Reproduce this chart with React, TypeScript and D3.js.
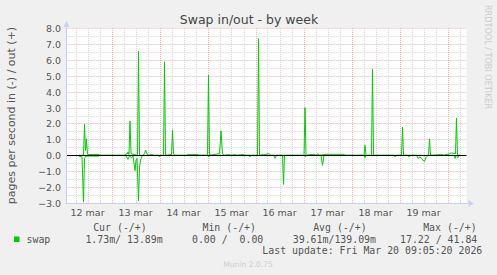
import React from "react";
import * as d3 from "d3";

// ---- data ----
const outTimes = [
  "03-12 07:30","03-12 10:00","03-12 10:30","03-12 11:00","03-12 11:30","03-12 12:00","03-12 17:45","03-12 18:15",
  "03-13 06:45","03-13 07:15","03-13 07:45","03-13 08:15","03-13 08:45","03-13 09:15","03-13 09:45",
  "03-13 13:00","03-13 13:30","03-13 14:00","03-13 15:45","03-13 16:30","03-13 17:00","03-13 17:45","03-13 18:45",
  "03-13 19:30","03-13 20:30","03-13 21:00",
  "03-14 02:00","03-14 02:30","03-14 03:00","03-14 06:00","03-14 06:30","03-14 07:00","03-14 07:45",
  "03-14 13:30","03-14 14:00","03-14 19:15","03-14 19:45",
  "03-15 00:00","03-15 00:30","03-15 01:00","03-15 06:00","03-15 06:45","03-15 07:30","03-15 08:15",
  "03-15 11:00","03-15 11:30","03-15 14:00","03-15 14:30","03-15 18:00","03-15 18:30",
  "03-16 01:00","03-16 01:30","03-16 02:00","03-16 05:00","03-16 06:30","03-16 07:30","03-16 08:00",
  "03-17 00:15","03-17 00:45","03-17 01:15","03-17 03:45","03-17 05:45","03-17 06:15","03-17 07:15","03-17 07:45",
  "03-17 11:15","03-17 13:45","03-17 16:45","03-17 20:15","03-17 20:45",
  "03-18 06:15","03-18 06:45","03-18 07:15","03-18 10:00","03-18 10:30","03-18 11:00",
  "03-19 01:00","03-19 01:30","03-19 02:00","03-19 14:30","03-19 15:00","03-19 15:30","03-19 21:30","03-19 22:00",
  "03-20 01:00","03-20 02:00","03-20 04:00","03-20 04:30","03-20 05:00","03-20 06:15",
];
const outValues = [
  0, 0, 1.95, 0.3, 1.03, 0.05, 0.05, 0,
  0, 0.1, 0.05, 0.2, 0.05, 2.16, 0.1,
  0, 6.53, 0, 0, 0.1, 0.33, 0.08, 0,
  0.05, 0.05, 0,
  0, 5.88, 0, 0.05, 1.59, 0.1, 0,
  0, 0.05, 0.05, 0,
  0, 5.04, 0, 0.1, 1.53, 0.1, 0,
  0.05, 0, 0.05, 0, 0.05, 0,
  0, 7.33, 0, 0.05, 0.1, 0.05, 0,
  0, 3.0, 0, 0.05, 0.05, 0, 0.1, 0,
  0.06, 0.06, 0.06, 0.06, 0,
  0, 0.63, 0, 0, 5.42, 0,
  0, 1.76, 0, 0, 1.03, 0, 0.05, 0,
  0.1, 0.15, 0.1, 2.35, 0, 0,
];

const inTimes = [
  "03-12 07:30","03-12 09:15","03-12 10:00","03-12 10:30","03-12 11:15","03-12 17:45","03-12 18:15",
  "03-13 06:45","03-13 07:15","03-13 08:15","03-13 09:00","03-13 10:00","03-13 10:45","03-13 11:45",
  "03-13 12:15","03-13 12:45","03-13 13:30","03-13 14:00","03-13 14:30","03-13 15:15","03-13 15:45",
  "03-13 23:30","03-14 00:00","03-14 00:30",
  "03-15 00:00","03-15 00:30","03-15 01:00","03-15 20:45","03-15 21:15","03-15 21:45",
  "03-16 09:00","03-16 09:45","03-16 10:30","03-16 13:30","03-16 14:00","03-16 14:30",
  "03-17 00:30","03-17 01:00","03-17 01:30","03-17 08:45","03-17 09:30","03-17 10:15",
  "03-18 06:15","03-18 06:45","03-18 07:15","03-18 21:15","03-18 21:45","03-18 22:15",
  "03-19 04:15","03-19 04:45","03-19 05:15","03-19 08:30","03-19 09:15","03-19 10:15","03-19 11:15",
  "03-19 12:30","03-19 13:15","03-19 14:15",
  "03-20 03:15","03-20 03:45","03-20 04:15","03-20 05:15","03-20 05:45","03-20 06:15",
];
const inValues = [
  0.05, 0.1, 2.92, 0.2, 0.05, 0.05, 0,
  0, 0.05, 0.25, 0.05, 0.15, 0.05, 0.97,
  0.3, 0.2, 2.86, 0.8, 0.3, 0.05, 0,
  0, 0.1, 0,
  0, 0.1, 0, 0, 0.1, 0,
  0, 0.19, 0, 0, 1.83, 0,
  0, 0.1, 0, 0, 0.63, 0,
  0, 0.15, 0, 0, 0.1, 0,
  0, 0.1, 0, 0, 0.2, 0.1, 0.25,
  0.38, 0.15, 0,
  0, 0.2, 0, 0.15, 0, 0,
];

const yTicks = [-3, -2, -1, 0, 1, 2, 3, 4, 5, 6, 7, 8];
const dayLabels = ["12 mar", "13 mar", "14 mar", "15 mar", "16 mar", "17 mar", "18 mar", "19 mar"];
const legendHeaders = ["Cur (-/+)", "Min (-/+)", "Avg (-/+)", "Max (-/+)"];
const legendValues = ["1.73m/ 13.89m", "0.00 /  0.00", "39.61m/139.09m", "17.22 / 41.84"];
const seriesName = "swap";
const title = "Swap in/out - by week";
const yLabel = "pages per second in (-) / out (+)";
const lastUpdate = "Last update: Fri Mar 20 09:05:20 2026";
const footer = "Munin 2.0.75";
const watermark = "RRDTOOL / TOBI OETIKER";

const parseT = (s: string) => {
  const [md, hm] = s.split(" ");
  const [mo, d] = md.split("-").map(Number);
  const [h, m] = hm.split(":").map(Number);
  return new Date(Date.UTC(2026, mo - 1, d, h, m));
};

const W = 497, H = 275;
const PL = 66.5, PR = 466.5, PT = 28, PB = 203;
const GREEN = "#00cc00";
const SANS = "DejaVu Sans, sans-serif";
const MONO = "DejaVu Sans Mono, monospace";

export default function App() {
  const x = d3.scaleUtc()
    .domain([new Date(Date.UTC(2026, 2, 12, 1, 30)), new Date(Date.UTC(2026, 2, 20, 9, 30))])
    .range([PL, PR]);
  const y = d3.scaleLinear().domain([-3, 8]).range([PB, PT]);
  const cy = (v: number) => Math.round(y(v)) + 0.5;
  const cx = (d: Date) => Math.round(x(d)) + 0.5;

  const [t0, t1] = x.domain();
  const minorX = d3.utcHour.every(6)!.range(t0, t1).filter((d) => d.getUTCHours() !== 0);
  const majorX = d3.utcDay.range(t0, t1);
  const halfTicks = d3.range(-3, 8.01, 0.5).filter((v) => Math.abs(v % 1) > 0.1);

  const outData = outTimes.map((t, i) => ({ t: parseT(t), v: outValues[i] }));
  const inData = inTimes.map((t, i) => ({ t: parseT(t), v: -inValues[i] }));
  const line = d3.line<{ t: Date; v: number }>().x((d) => x(d.t)).y((d) => y(d.v));

  const labelDays = dayLabels.map((_, i) => new Date(Date.UTC(2026, 2, 12 + i, 12)));
  const legendHeaderEnds = [146.7, 256, 366.7, 476.7];
  const legendValueEnds = [162.7, 263.3, 376, 477.3];

  return (
    <svg width={W} height={H} style={{ position: "absolute", left: 0, top: 0 }}>
      <rect x={0} y={0} width={W} height={H} fill="#f0f0f0" />
      <rect x={PL} y={PT} width={PR - PL} height={PB - PT} fill="#ffffff" />
      {/* minor grid */}
      {minorX.map((d, i) => (
        <line key={"mx" + i} x1={cx(d)} x2={cx(d)} y1={PT} y2={PB} stroke="#d4d4d4" strokeDasharray="1,1" />
      ))}
      {halfTicks.map((v, i) => (
        <line key={"my" + i} x1={PL} x2={PR} y1={cy(v)} y2={cy(v)} stroke="#d4d4d4" strokeDasharray="1,1" />
      ))}
      {/* major grid */}
      {majorX.map((d, i) => (
        <line key={"Mx" + i} x1={cx(d)} x2={cx(d)} y1={PT} y2={PB} stroke="#f0b6b6" strokeDasharray="1,1" />
      ))}
      {yTicks.map((v, i) => (
        <line key={"My" + i} x1={PL} x2={PR} y1={cy(v)} y2={cy(v)} stroke="#f0b6b6" strokeDasharray="1,1" />
      ))}
      {/* data */}
      <path d={line(inData) || ""} fill="none" stroke={GREEN} strokeWidth={1} />
      <path d={line(outData) || ""} fill="none" stroke={GREEN} strokeWidth={1} />
      {/* zero rule */}
      <line x1={PL} x2={PR} y1={cy(0)} y2={cy(0)} stroke="#000" strokeWidth={1} />
      {/* axes */}
      <line x1={PL} x2={PL} y1={24} y2={PB + 1} stroke="#c8cff2" />
      <line x1={PL - 0.5} x2={PR + 3} y1={cy(-3)} y2={cy(-3)} stroke="#c8cff2" />
      <path d={`M${PL - 3},${27} L${PL},${21} L${PL + 3},${27} Z`} fill="#c8cff2" />
      <path d={`M${PR + 2},${cy(-3) - 3.5} L${PR + 7},${cy(-3)} L${PR + 2},${cy(-3) + 3.5} Z`} fill="#c8cff2" />
      {/* y tick labels */}
      {yTicks.map((v, i) => (
        <text key={"yl" + i} x={61} y={cy(v) + 3.4} textAnchor="end" fontFamily={SANS} fontSize={9.5} fill="#555">
          {d3.format(".1f")(v)}
        </text>
      ))}
      {/* x labels */}
      {labelDays.map((d, i) => (
        <text key={"xl" + i} x={x(d)} y={215.5} textAnchor="middle" fontFamily={SANS} fontSize={9.5} fill="#555">
          {dayLabels[i]}
        </text>
      ))}
      {/* title */}
      <text x={249} y={24} textAnchor="middle" fontFamily={SANS} fontSize={12.5} fill="#444">{title}</text>
      {/* y label */}
      <text transform={`translate(14.8,${(PT + PB) / 2}) rotate(-90)`} textAnchor="middle" fontFamily={SANS} fontSize={11} fill="#555">
        {yLabel}
      </text>
      {/* watermark */}
      <text transform="translate(485,5) rotate(90)" fontFamily={SANS} fontSize={8.1} fill="#cccccc">{watermark}</text>
      {/* legend */}
      {legendHeaders.map((h, i) => (
        <text key={"lh" + i} x={legendHeaderEnds[i]} y={230.5} textAnchor="end" fontFamily={MONO} fontSize={9.9} fill="#555" style={{ whiteSpace: "pre" }}>
          {h}
        </text>
      ))}
      <rect x={14} y={236.5} width={5.5} height={5.5} fill={GREEN} />
      <text x={26.5} y={242.7} fontFamily={MONO} fontSize={9.9} fill="#555">{seriesName}</text>
      {legendValues.map((v, i) => (
        <text key={"lv" + i} x={legendValueEnds[i]} y={242.7} textAnchor="end" fontFamily={MONO} fontSize={9.9} fill="#555" style={{ whiteSpace: "pre" }}>
          {v}
        </text>
      ))}
      <text x={482.3} y={253.8} textAnchor="end" fontFamily={MONO} fontSize={9.9} fill="#555">{lastUpdate}</text>
      <text x={248} y={267} textAnchor="middle" fontFamily={SANS} fontSize={7.6} fill="#cccccc">{footer}</text>
    </svg>
  );
}
